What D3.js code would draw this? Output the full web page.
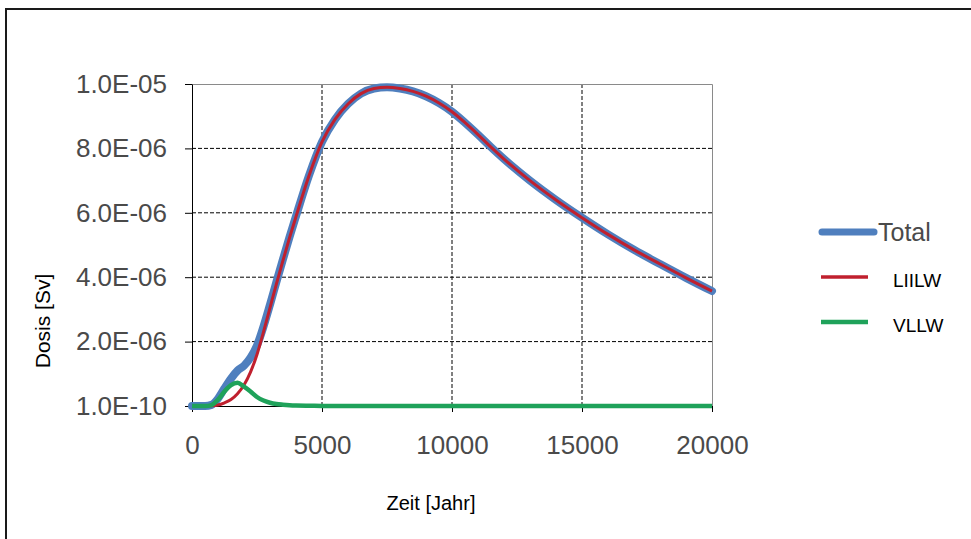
<!DOCTYPE html>
<html>
<head>
<meta charset="utf-8">
<script src="https://cdn.jsdelivr.net/npm/d3@7"></script>
<style>
  html, body { margin: 0; padding: 0; background: #fff; overflow: hidden; }
  svg { display: block; }
</style>
</head>
<body>
<div id="dose-chart"></div>
<script>
// Data (dose values in micro-Sievert, i.e. x 1E-06 Sv)
const years = [0, 500, 750, 1000, 1250, 1500, 1750, 2000, 2250, 2500, 2750, 3000, 3250, 3500, 3750, 4000,
  4500, 5000, 5500, 6000, 6500, 7000, 7500, 8000, 8500, 9000, 9500, 10000, 10500, 11000, 11500,
  12000, 13000, 14000, 15000, 16000, 17000, 18000, 19000, 20000];

const doseLILW = [0, 0, 0.005, 0.03, 0.1, 0.2, 0.38, 0.65, 1.05, 1.6, 2.3, 3.05, 3.8, 4.52, 5.22, 5.88,
  7.15, 8.2, 8.9, 9.38, 9.7, 9.86, 9.9, 9.86, 9.77, 9.62, 9.41, 9.14, 8.8, 8.43, 8.04,
  7.67, 7.0, 6.4, 5.85, 5.33, 4.85, 4.41, 3.98, 3.57];

const doseVLLW = [0, 0, 0.03, 0.2, 0.45, 0.65, 0.72, 0.6, 0.45, 0.28, 0.17, 0.1, 0.06, 0.04, 0.025, 0.015,
  0.007, 0.003, 0, 0, 0, 0, 0, 0, 0, 0, 0, 0, 0, 0, 0,
  0, 0, 0, 0, 0, 0, 0, 0, 0];

const doseTotal = [0, 0, 0.035, 0.23, 0.55, 0.85, 1.1, 1.25, 1.5, 1.88, 2.47, 3.15, 3.86, 4.56, 5.245, 5.895,
  7.157, 8.203, 8.9, 9.38, 9.7, 9.86, 9.9, 9.86, 9.77, 9.62, 9.41, 9.14, 8.8, 8.43, 8.04,
  7.67, 7.0, 6.4, 5.85, 5.33, 4.85, 4.41, 3.98, 3.57];

const xTickValues = [0, 5000, 10000, 15000, 20000];
const yTickValues = [0.0001, 2, 4, 6, 8, 10];
const yTickLabels = ["1.0E-10", "2.0E-06", "4.0E-06", "6.0E-06", "8.0E-06", "1.0E-05"];

const seriesNames = ["Total", "LIILW", "VLLW"];

function createDoseChart() {
  const W = 971, H = 539;
  const margin = { top: 84, right: 259, bottom: 133, left: 192 };
  const width = W - margin.left - margin.right;
  const height = H - margin.top - margin.bottom;

  const root = d3.select("#dose-chart")
    .append("svg")
    .attr("width", W)
    .attr("height", H);

  // outer frame (only top and left edges are visible in the crop)
  root.append("path")
    .attr("d", `M6,${H}V9H${W}`)
    .attr("fill", "none")
    .attr("stroke", "#1a1a1a")
    .attr("stroke-width", 2);

  const svg = root.append("g")
    .attr("transform", `translate(${margin.left},${margin.top})`);

  // Scales
  const x = d3.scaleLinear().domain([0, 20000]).range([0, width]);
  const y = d3.scaleLinear().domain([0.0001, 10]).range([height, 0]);

  // Grid lines
  svg.append("g")
    .selectAll("line")
    .data(yTickValues.slice(1, -1))
    .enter().append("line")
    .attr("x1", 0).attr("x2", width)
    .attr("y1", d => y(d)).attr("y2", d => y(d))
    .attr("stroke", "#000")
    .attr("stroke-dasharray", "4,2");

  svg.append("g")
    .selectAll("line")
    .data(xTickValues.slice(1, -1))
    .enter().append("line")
    .attr("x1", d => x(d)).attr("x2", d => x(d))
    .attr("y1", 0).attr("y2", height)
    .attr("stroke", "#000")
    .attr("stroke-dasharray", "4,2");

  // plot area border top / right
  svg.append("path")
    .attr("d", `M0,0.5H${width + 0.5}V${height}`)
    .attr("fill", "none")
    .attr("stroke", "#8a8a8a");

  // Axes
  const xAxis = d3.axisBottom(x)
    .tickValues(xTickValues)
    .tickSize(6)
    .tickSizeOuter(0)
    .tickPadding(24)
    .tickFormat(d3.format("d"));

  const yAxis = d3.axisLeft(y)
    .tickValues(yTickValues)
    .tickSize(7)
    .tickSizeOuter(0)
    .tickPadding(18)
    .tickFormat((d, i) => yTickLabels[i]);

  const gx = svg.append("g")
    .attr("transform", `translate(0,${height})`)
    .call(xAxis);

  const gy = svg.append("g")
    .call(yAxis);

  [gx, gy].forEach(g => {
    g.select(".domain").attr("stroke", "#000");
    g.selectAll(".tick line").attr("stroke", "#000");
    g.selectAll("text")
      .attr("fill", "#4a4a4a")
      .style("font-family", "'Liberation Sans', Arial, sans-serif")
      .style("font-size", "26px");
  });

  // Lines
  const line = d3.line()
    .x((d, i) => x(years[i]))
    .y(d => y(d))
    .curve(d3.curveMonotoneX);

  svg.append("path")
    .datum(doseTotal)
    .attr("fill", "none")
    .attr("stroke", "#4f7fbe")
    .attr("stroke-width", 8)
    .attr("stroke-linecap", "round")
    .attr("stroke-linejoin", "round")
    .attr("d", line);

  svg.append("path")
    .datum(doseLILW)
    .attr("fill", "none")
    .attr("stroke", "#c0202e")
    .attr("stroke-width", 3)
    .attr("d", line);

  svg.append("path")
    .datum(doseVLLW)
    .attr("fill", "none")
    .attr("stroke", "#1fa25a")
    .attr("stroke-width", 4.5)
    .attr("d", line);

  // Axis titles
  root.append("text")
    .attr("transform", "translate(50,321) rotate(-90)")
    .attr("text-anchor", "middle")
    .style("font-family", "'Liberation Sans', Arial, sans-serif")
    .style("font-size", "21px")
    .attr("fill", "#000")
    .text("Dosis [Sv]");

  root.append("text")
    .attr("x", 431)
    .attr("y", 510)
    .attr("text-anchor", "middle")
    .style("font-family", "'Liberation Sans', Arial, sans-serif")
    .style("font-size", "20px")
    .attr("fill", "#000")
    .text("Zeit [Jahr]");

  // Legend
  const legendColor = ["#4f7fbe", "#c0202e", "#1fa25a"];
  const legendWidth = [7, 3.5, 4.5];

  const legend = root.append("g")
    .selectAll("g")
    .data(seriesNames)
    .enter().append("g")
    .attr("transform", (d, i) => `translate(0,${232 + i * 45})`);

  legend.append("line")
    .attr("x1", (d, i) => i === 0 ? 822 : 821)
    .attr("x2", (d, i) => i === 0 ? 874 : 868)
    .attr("y1", 0).attr("y2", 0)
    .attr("stroke", (d, i) => legendColor[i])
    .attr("stroke-width", (d, i) => legendWidth[i])
    .attr("stroke-linecap", (d, i) => i === 0 ? "round" : "butt");

  legend.append("text")
    .attr("x", (d, i) => i === 0 ? 878 : 893)
    .attr("y", (d, i) => i === 0 ? 9 : 10)
    .attr("fill", (d, i) => i === 0 ? "#4a4a4a" : "#000")
    .style("font-family", "'Liberation Sans', Arial, sans-serif")
    .style("font-size", (d, i) => i === 0 ? "25px" : "19px")
    .text(d => d);
}

document.addEventListener('DOMContentLoaded', createDoseChart);
</script>
</body>
</html>
